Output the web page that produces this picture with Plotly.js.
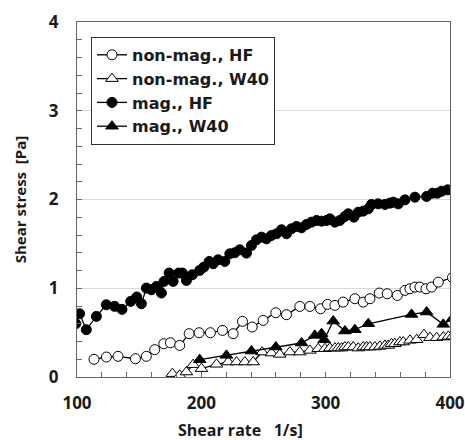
<!DOCTYPE html>
<html>
<head>
<meta charset="utf-8">
<script src="https://cdn.plot.ly/plotly-3.0.1.min.js"></script>
<style>html,body{margin:0;padding:0;background:#fff;}#chart{width:465px;height:440px;}</style>
</head>
<body>
<div id="chart"></div>
<script>
// ---- data ----
const seriesNames = ["non-mag., HF", "non-mag., W40", "mag., HF", "mag., W40"];

const nonMagHF_x = [113.7,123.6,133.0,147.0,155.8,162.5,169.8,175.1,182.6,190.2,198.2,207.3,217.0,225.6,233.1,240.9,249.7,259.9,268.5,279.2,287.3,295.9,301.5,307.4,314.1,323.5,330.2,335.6,343.1,349.5,357.6,363.8,367.8,371.8,375.8,380.7,385.2,390.6,402.0];
const nonMagHF_y = [0.199,0.225,0.233,0.206,0.233,0.308,0.375,0.386,0.356,0.488,0.499,0.499,0.525,0.488,0.627,0.563,0.638,0.724,0.702,0.795,0.795,0.769,0.818,0.807,0.844,0.882,0.844,0.882,0.946,0.938,0.919,0.976,0.994,1.013,1.013,0.994,1.013,1.069,1.12];

const nonMagW40_x = [176.7,182.6,188.0,193.4,200.1,212.2,221.6,228.3,235.0,241.7,248.9,256.4,263.1,271.2,279.2,287.3,294.0,299.4,303.4,307.4,310.1,312.8,315.5,318.2,322.2,326.2,330.2,332.9,335.6,339.6,343.6,347.7,350.4,353.0,355.7,359.7,362.4,367.8,373.2,379.1,383.9,389.3,394.6,398.7,402.0];
const nonMagW40_y = [0.038,0.019,0.056,0.139,0.094,0.143,0.169,0.169,0.169,0.169,0.281,0.270,0.255,0.281,0.281,0.300,0.319,0.319,0.326,0.326,0.326,0.326,0.338,0.338,0.338,0.326,0.338,0.338,0.338,0.338,0.345,0.356,0.356,0.375,0.375,0.394,0.394,0.413,0.420,0.477,0.443,0.443,0.450,0.458,0.46];

const magHF_x = [99.0,102.1,107.5,115.6,123.6,130.3,136.2,143.2,148.0,151.8,155.8,159.8,163.9,167.9,170.0,174.1,177.3,181.8,184.8,188.0,192.8,198.7,202.0,206.3,209.5,213.5,218.9,222.9,226.9,230.9,236.3,240.3,244.4,248.4,252.4,256.4,260.5,264.5,268.5,272.5,276.6,280.6,284.6,288.6,292.7,296.7,300.7,303.4,307.4,311.4,315.5,318.2,322.7,326.2,330.2,334.3,336.9,342.3,347.7,351.7,354.4,358.4,363.8,371.8,381.2,386.0,389.8,393.3,398.1];
const magHF_y = [0.60,0.713,0.533,0.683,0.814,0.796,0.762,0.852,0.901,0.826,1.002,0.983,1.021,0.946,1.077,1.171,1.077,1.171,1.171,1.088,1.152,1.201,1.238,1.302,1.276,1.321,1.302,1.388,1.400,1.433,1.396,1.482,1.546,1.576,1.557,1.595,1.614,1.659,1.614,1.670,1.696,1.681,1.719,1.745,1.764,1.756,1.764,1.782,1.745,1.764,1.809,1.839,1.801,1.857,1.869,1.895,1.944,1.951,1.944,1.959,1.970,1.951,1.996,2.026,2.034,2.071,2.071,2.094,2.109];

const magW40_x = [198.7,220.2,240.3,259.9,280.6,291.3,296.7,298.8,306.1,315.5,323.5,334.3,369.1,381.2,394.6,402.0];
const magW40_y = [0.195,0.244,0.293,0.338,0.383,0.469,0.488,0.420,0.630,0.518,0.533,0.600,0.705,0.732,0.593,0.66];

const xTitle = "Shear rate &nbsp; 1/s]";
const yTitle = "Shear stress &nbsp;[Pa]";

// ---- chart ----
const FONT = "Open Sans, Lato, sans-serif";
const LFONT = "DejaVu Sans, Open Sans, sans-serif";
const lineStyle = {color: "#000", width: 1.3};

const traces = [
  {x: nonMagHF_x, y: nonMagHF_y, name: seriesNames[0], mode: "lines+markers", line: lineStyle,
   marker: {symbol: "circle", size: 10, color: "#fff", line: {color: "#000", width: 1}}},
  {x: nonMagW40_x, y: nonMagW40_y, name: seriesNames[1], mode: "lines+markers", line: lineStyle,
   marker: {symbol: "triangle-up", size: 11, color: "#fff", line: {color: "#000", width: 1}}},
  {x: magHF_x, y: magHF_y, name: seriesNames[2], mode: "lines+markers", line: lineStyle,
   marker: {symbol: "circle", size: 10, color: "#000", line: {color: "#000", width: 1}}},
  {x: magW40_x, y: magW40_y, name: seriesNames[3], mode: "lines+markers", line: lineStyle,
   marker: {symbol: "triangle-up", size: 11, color: "#000", line: {color: "#000", width: 1}}}
];

const layout = {
  width: 465, height: 440,
  margin: {l: 77, r: 15, t: 22, b: 63},
  paper_bgcolor: "#fff", plot_bgcolor: "#fff",
  showlegend: true,
  font: {family: FONT, color: "#1a1a1a"},
  xaxis: {
    range: [100, 400], dtick: 100, tick0: 100,
    showgrid: false, zeroline: false,
    showline: true, mirror: true, linecolor: "#666", linewidth: 1,
    ticks: "inside", ticklen: 5, tickcolor: "#666",
    minor: {dtick: 20, ticks: "inside", ticklen: 5, tickcolor: "#666", showgrid: false},
    tickfont: {family: FONT, size: 17, weight: "bold", color: "#1a1a1a"},
    ticklabelstandoff: 11,
    title: {text: ""}
  },
  yaxis: {
    range: [0, 4], dtick: 1, tick0: 0,
    showgrid: true, gridcolor: "#d9d9d9", gridwidth: 1, zeroline: false,
    showline: true, mirror: true, linecolor: "#666", linewidth: 1,
    ticks: "inside", ticklen: 5, tickcolor: "#666",
    minor: {dtick: 0.2, ticks: "inside", ticklen: 5, tickcolor: "#666", showgrid: false},
    tickfont: {family: FONT, size: 17, weight: "bold", color: "#1a1a1a"},
    ticklabelstandoff: 14,
    title: {text: yTitle, font: {family: FONT, size: 15, weight: "bold", color: "#1a1a1a"}, standoff: 18}
  },
  legend: {
    x: 0.0375, y: 0.958, xanchor: "left", yanchor: "top",
    bgcolor: "#fff", bordercolor: "#333", borderwidth: 1,
    font: {family: LFONT, size: 16, weight: "bold", color: "#1a1a1a"},
    itemwidth: 30
  },
  annotations: [{
    text: xTitle, xref: "paper", yref: "paper", x: 0.437, y: 0, yshift: -53,
    xanchor: "center", yanchor: "middle", showarrow: false,
    font: {family: FONT, size: 16, weight: "bold", color: "#1a1a1a"}
  }]
};

Plotly.newPlot("chart", traces, layout, {displayModeBar: false, staticPlot: true});
</script>
</body>
</html>
